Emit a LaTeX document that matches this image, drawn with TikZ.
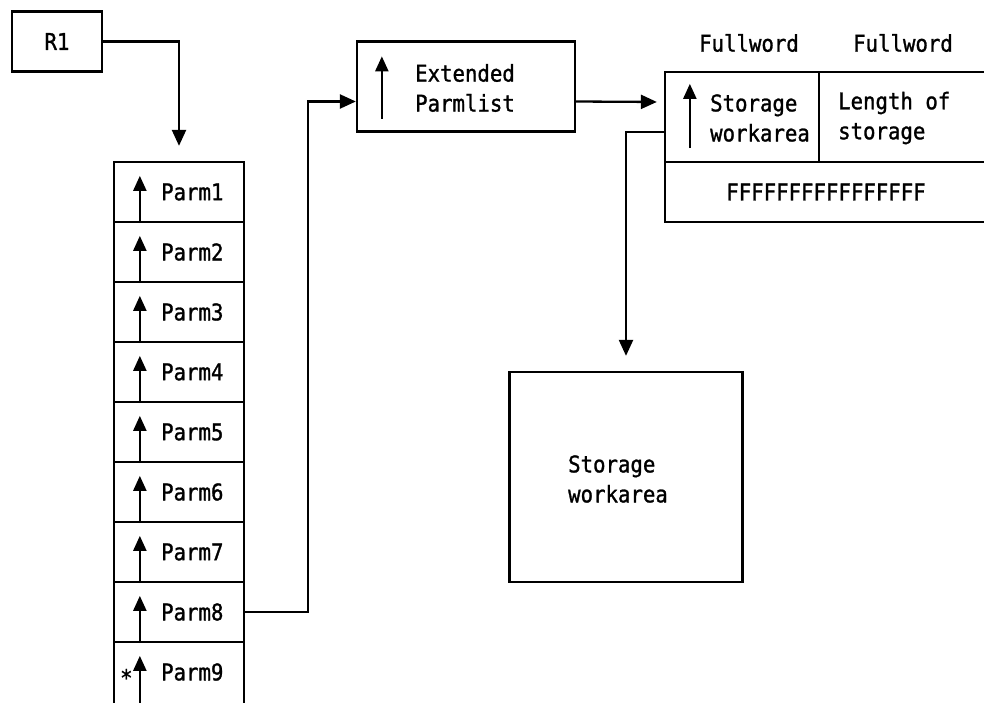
\documentclass[tikz,border=0pt]{standalone}
\usepackage{fontspec}
\setmonofont[FakeStretch=0.9,FakeBold=1.2]{DejaVu Sans Mono}
\usetikzlibrary{arrows.meta}
\begin{document}
\begin{tikzpicture}[x=1pt,y=-1pt,
  line width=2.3pt,
  every node/.style={font=\ttfamily\fontsize{23}{30}\selectfont},
  cell/.style={draw, rectangle, inner sep=0pt, line width=2.3pt},
  txt/.style={inner sep=0pt, anchor=west, align=left},
  conn/.style={-{Triangle[length=16pt,width=14pt]}, line width=2.3pt},
  ptr/.style={-{Triangle[length=15pt,width=13pt]}, line width=2.3pt}]
\useasboundingbox (0,0) rectangle (984,702);

% register
\node[cell, minimum width=90pt, minimum height=60pt] (r1) at (57,41.5) {R1};

% parameter list
\foreach \i in {1,...,8}{
  \node[cell, minimum width=130pt, minimum height=60pt] (p\i) at (179,132+60*\i) {};
}
\node[cell, minimum width=130pt, minimum height=70pt] (p9) at (179,677) {};
\foreach \i in {1,...,9}{
  \draw[ptr] ([xshift=27pt]p\i.south west) -- ([xshift=27pt,yshift=-15pt]p\i.north west);
  \node[txt] (l\i) at (160,132+60*\i) {Parm\i};
}
\node[inner sep=0pt, anchor=base west] (star) at (119,686) {*};

% extended parameter list
\node[cell, minimum width=218pt, minimum height=90pt] (ext) at (466,86.5) {};
\draw[ptr] ([xshift=26pt,yshift=14pt]ext.south west) -- ([xshift=26pt,yshift=-16pt]ext.north west);
\node[txt] (extl) at (414,88) {Extended\\Parmlist};

% fullword pair and padding
\node[cell, minimum width=154pt, minimum height=90pt] (fw1) at (742,117) {};
\node[cell, minimum width=181pt, minimum height=90pt] (fw2) at (909.5,117) {};
\node[cell, minimum width=335pt, minimum height=60pt] (fwrow) at (832.5,192) {};
\draw[ptr] ([xshift=26pt,yshift=15pt]fw1.south west) -- ([xshift=26pt,yshift=-13pt]fw1.north west);
\node[txt] (fw1l) at (709,118) {Storage\\workarea};
\node[txt] (fw2l) at (837,118) {Length of\\storage};
\node (pad) at (826,192) {FFFFFFFFFFFFFFFF};
\node (h1) at (749,43) {Fullword};
\node (h2) at (903,43) {Fullword};

% storage work area
\node[cell, minimum width=233pt, minimum height=210pt] (work) at (626,477) {};
\node[txt] (workl) at (567,479) {Storage\\workarea};

% connectors
\draw[conn, shorten >=15pt] (r1.east) -| (p1.north);
\draw[conn] (p8.east) -- ++(63,0) |- ([yshift=-15pt]ext.west);
\draw[conn, shorten >=7pt] ([yshift=-15pt]ext.east) -- ([yshift=15pt]fw1.west);
\draw[conn, shorten >=15pt] ([yshift=-15pt]fw1.west) -| (work.north);
\end{tikzpicture}
\end{document}
